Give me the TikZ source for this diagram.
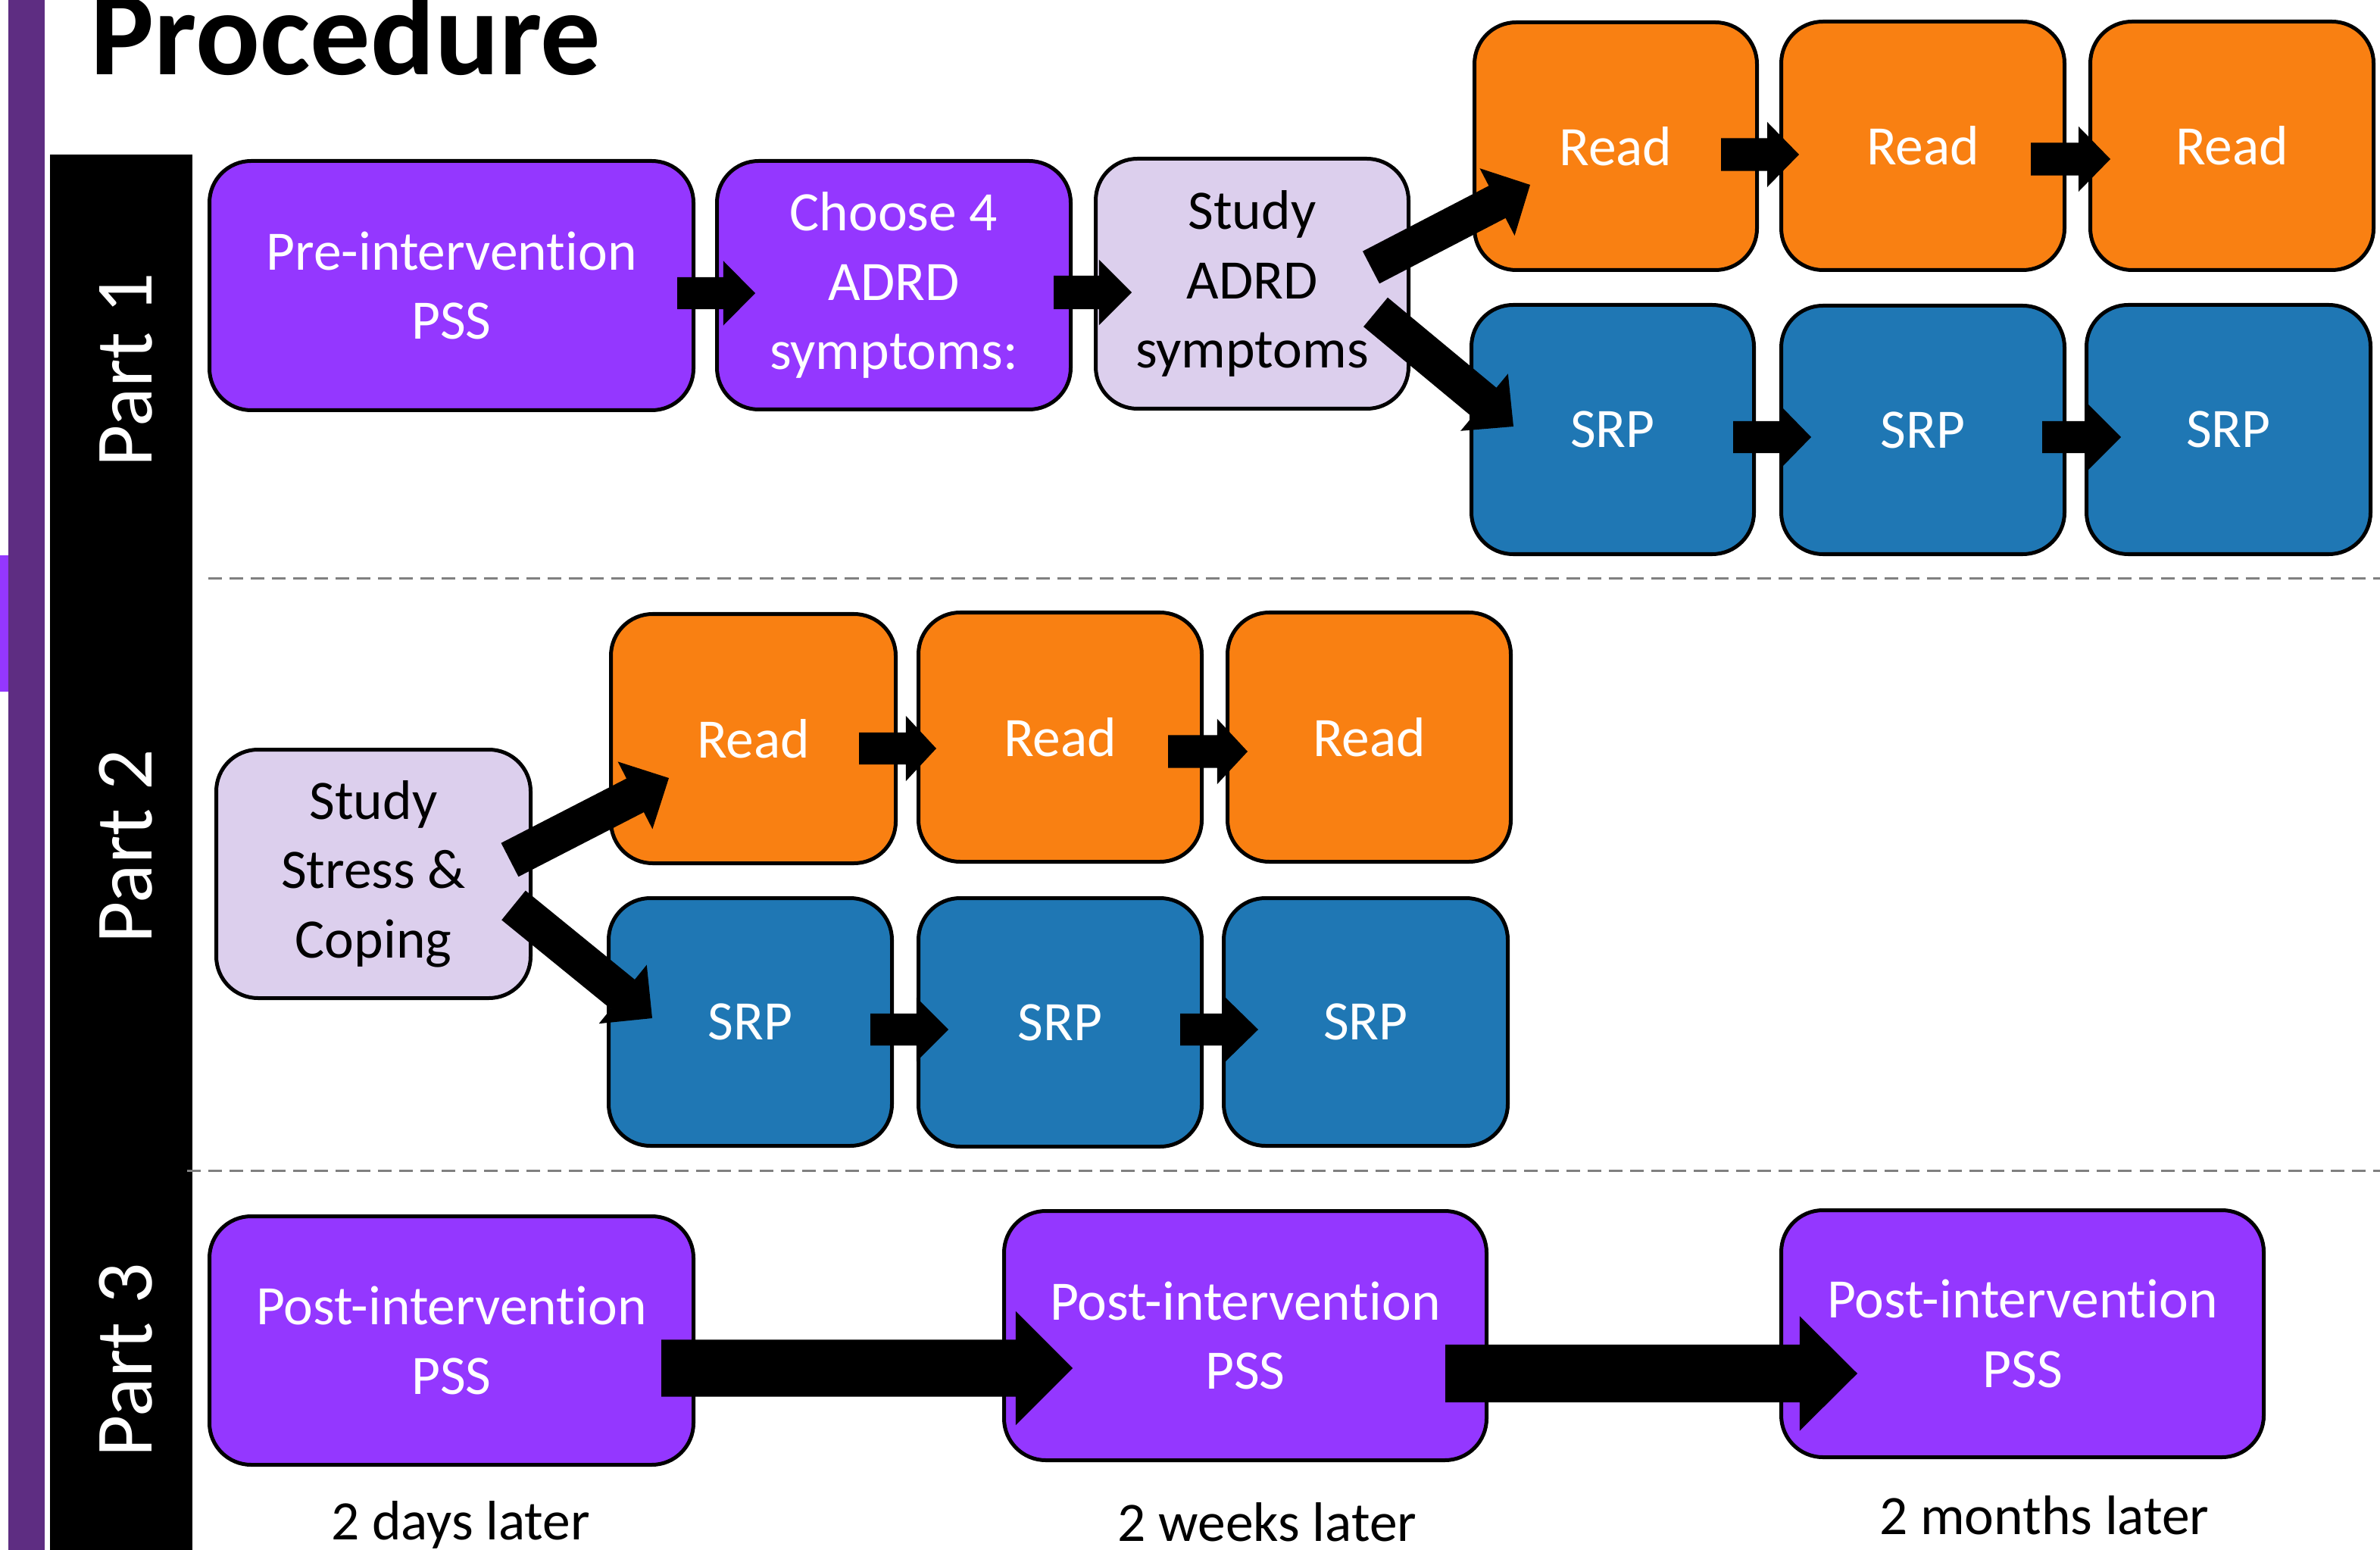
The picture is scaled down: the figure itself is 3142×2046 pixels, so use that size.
\documentclass[tikz,border=0pt]{standalone}
\usepackage{fontspec}
\setmainfont{Carlito}[Ligatures={NoCommon}]
\usetikzlibrary{calc}
\definecolor{cPurple}{RGB}{148,55,255}
\definecolor{cLav}{RGB}{220,207,237}
\definecolor{cOrange}{RGB}{249,128,18}
\definecolor{cBlue}{RGB}{31,119,180}
\definecolor{cDark}{RGB}{94,45,130}
\definecolor{cDash}{RGB}{128,128,128}
\newcommand\boxfont{\fontsize{20.9pt}{26pt}\selectfont}
\newcommand\timefont{\fontsize{20.9pt}{25pt}\selectfont}
\newcommand\partfont{\fontsize{30.5pt}{34pt}\selectfont}
\newcommand\titlefont{\fontsize{45pt}{52pt}\selectfont\bfseries}
\tikzset{
  box/.style={draw=black, line width=0.05cm, rounded corners=0.55cm, align=center,
    text=white, font=\boxfont, inner sep=0pt},
  pbox/.style={box, fill=cPurple},
  lbox/.style={box, fill=cLav, text=black},
  obox/.style={box, fill=cOrange},
  bbox/.style={box, fill=cBlue},
  partlabel/.style={rotate=90, anchor=base, text=white, font=\partfont, inner sep=0pt},
  timelabel/.style={anchor=base, text=black, font=\timefont, inner sep=0pt},
  sepline/.style={draw=cDash, line width=0.03cm, dash pattern=on 0.18cm off 0.10cm},
}
% box: name, style, x1, y1, x2, y2, text (outer extents in px)
\newcommand\bx[7]{\node[#2, minimum width={(#5-#3-5)*0.01cm}, minimum height={(#6-#4-5)*0.01cm}] (#1) at ({(#3+#5)/2},{(#4+#6)/2}) {#7};}
% block arrow: tail, tip, shaft half width, head half width, head length
\newcommand\barrow[5]{%
  \coordinate (bah) at ($(#2)!#5!(#1)$);
  \fill[black] ($(#1)!#3!90:(#2)$) -- ($(bah)!#3!90:(#2)$) -- ($(bah)!#4!90:(#2)$) -- (#2)
    -- ($(bah)!#4!-90:(#2)$) -- ($(bah)!#3!-90:(#2)$) -- ($(#1)!#3!-90:(#2)$) -- cycle;}
\begin{document}
\begin{tikzpicture}[x=0.01cm, y=-0.01cm]
\useasboundingbox (0,0) rectangle (3142,2046);
\fill[white] (0,0) rectangle (3142,2046);
% side bars
\fill[cDark] (11,0) rectangle (59,2046);
\fill[cPurple] (0,733) rectangle (11,913);
\fill[black] (66,204) rectangle (254,2046);
% title
\node[anchor=base west, inner sep=0pt, font=\titlefont] (title) at (119,99) {Procedure};
% part labels
\node[partlabel] (part1) at (200,488) {Part 1};
\node[partlabel] (part2) at (200,1117) {Part 2};
\node[partlabel] (part3) at (200,1795) {Part 3};
% separators
\draw[sepline] (275,764) -- (3142,764);
\draw[sepline] (247,1545) -- (3142,1545);
% Part 1 boxes
\bx{pre}{pbox}{274}{210}{918}{544}{Pre-intervention\\PSS}
\bx{choose}{pbox}{944}{210}{1416}{543}{Choose 4\\ADRD\\symptoms:}
\bx{studyA}{lbox}{1444}{207}{1862}{542}{Study\\ADRD\\symptoms}
\bx{r1a}{obox}{1944}{27}{2322}{359}{Read}
\bx{r1b}{obox}{2349}{26}{2728}{359}{Read}
\bx{r1c}{obox}{2757}{26}{3136}{359}{Read}
\bx{s1a}{bbox}{1940}{400}{2318}{734}{SRP}
\bx{s1b}{bbox}{2349}{401}{2728}{734}{SRP}
\bx{s1c}{bbox}{2752}{400}{3132}{734}{SRP}
% Part 2 boxes
\bx{studyS}{lbox}{283}{987}{703}{1320}{Study\\Stress \&\\Coping}
\bx{r2a}{obox}{804}{808}{1185}{1142}{Read}
\bx{r2b}{obox}{1210}{806}{1589}{1140}{Read}
\bx{r2c}{obox}{1618}{806}{1997}{1140}{Read}
\bx{s2a}{bbox}{801}{1183}{1180}{1515}{SRP}
\bx{s2b}{bbox}{1210}{1183}{1589}{1516}{SRP}
\bx{s2c}{bbox}{1613}{1183}{1993}{1515}{SRP}
% Part 3 boxes
\bx{p3a}{pbox}{274}{1603}{918}{1936}{Post-intervention\\PSS}
\bx{p3b}{pbox}{1323}{1596}{1965}{1930}{Post-intervention\\PSS}
\bx{p3c}{pbox}{2349}{1595}{2991}{1926}{Post-intervention\\PSS}
% time labels
\node[timelabel] (t1) at (608,2032) {2 days later};
\node[timelabel] (t2) at (1673,2034) {2 weeks later};
\node[timelabel] (t3) at (2699,2025) {2 months later};
% arrow end points
\coordinate (a1s) at (894,387);   \coordinate (a1e) at (997,387);
\coordinate (a2s) at (1391,386);  \coordinate (a2e) at (1494,386);
\coordinate (a3s) at (1810,353);  \coordinate (a3e) at (2020,244);
\coordinate (a4s) at (1816,412);  \coordinate (a4e) at (1998,563);
\coordinate (a5s) at (2272,204);  \coordinate (a5e) at (2375,204);
\coordinate (a6s) at (2681,210);  \coordinate (a6e) at (2786,210);
\coordinate (a7s) at (2288,577);  \coordinate (a7e) at (2391,577);
\coordinate (a8s) at (2696,577);  \coordinate (a8e) at (2800,577);
\coordinate (b1s) at (1134,988);  \coordinate (b1e) at (1236,988);
\coordinate (b2s) at (1542,992);  \coordinate (b2e) at (1647,992);
\coordinate (b3s) at (1149,1359); \coordinate (b3e) at (1252,1359);
\coordinate (b4s) at (1558,1359); \coordinate (b4e) at (1661,1359);
\coordinate (b5s) at (673,1135);  \coordinate (b5e) at (883,1027);
\coordinate (b6s) at (678,1195);  \coordinate (b6e) at (861,1344);
\coordinate (c1s) at (873,1806);  \coordinate (c1e) at (1416,1806);
\coordinate (c2s) at (1908,1813); \coordinate (c2e) at (2452,1813);
% arrows
\barrow{a1s}{a1e}{0.21cm}{0.425cm}{0.42cm}
\barrow{a2s}{a2e}{0.22cm}{0.43cm}{0.43cm}
\barrow{a3s}{a3e}{0.24cm}{0.50cm}{0.49cm}
\barrow{a4s}{a4e}{0.25cm}{0.49cm}{0.50cm}
\barrow{a5s}{a5e}{0.215cm}{0.43cm}{0.42cm}
\barrow{a6s}{a6e}{0.215cm}{0.43cm}{0.42cm}
\barrow{a7s}{a7e}{0.21cm}{0.41cm}{0.40cm}
\barrow{a8s}{a8e}{0.21cm}{0.43cm}{0.43cm}
\barrow{b1s}{b1e}{0.21cm}{0.43cm}{0.40cm}
\barrow{b2s}{b2e}{0.215cm}{0.43cm}{0.40cm}
\barrow{b3s}{b3e}{0.21cm}{0.42cm}{0.42cm}
\barrow{b4s}{b4e}{0.21cm}{0.42cm}{0.43cm}
\barrow{b5s}{b5e}{0.25cm}{0.50cm}{0.50cm}
\barrow{b6s}{b6e}{0.25cm}{0.50cm}{0.50cm}
\barrow{c1s}{c1e}{0.375cm}{0.75cm}{0.75cm}
\barrow{c2s}{c2e}{0.38cm}{0.755cm}{0.76cm}
\end{tikzpicture}
\end{document}
